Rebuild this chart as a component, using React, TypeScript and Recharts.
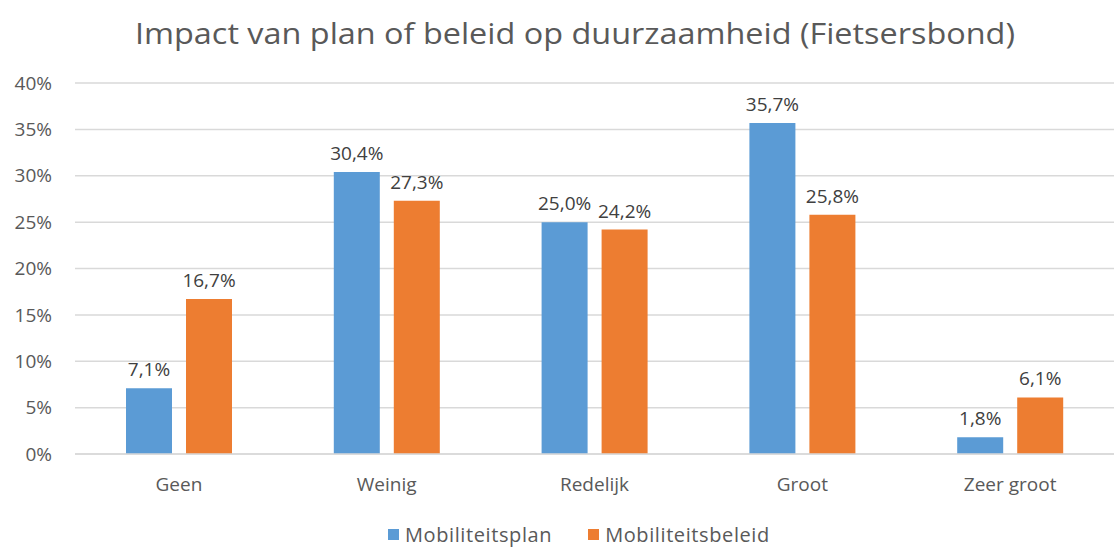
import React from "react";
import { BarChart, Bar, XAxis, YAxis, CartesianGrid, LabelList } from "recharts";

const categories = ["Geen", "Weinig", "Redelijk", "Groot", "Zeer groot"];
const mobiliteitsplan = [7.1, 30.4, 25.0, 35.7, 1.8];
const mobiliteitsbeleid = [16.7, 27.3, 24.2, 25.8, 6.1];
const yTicks = [0, 5, 10, 15, 20, 25, 30, 35, 40];
const title = "Impact van plan of beleid op duurzaamheid (Fietsersbond)";
const seriesNames = ["Mobiliteitsplan", "Mobiliteitsbeleid"];
const seriesColors = ["#5B9BD5", "#ED7D31"];

const data = categories.map((c, i) => ({
  name: c,
  plan: mobiliteitsplan[i],
  beleid: mobiliteitsbeleid[i],
}));

const FONT = "'Open Sans', sans-serif";
const fmt = (v: any) => `${Number(v).toFixed(1).replace(".", ",")}%`;

export default function App() {
  return (
    <div style={{ position: "absolute", left: 0, top: 0, width: 1114, height: 547, background: "#fff", overflow: "hidden" }}>
      <svg width={1114} height={70} style={{ position: "absolute", left: 0, top: 0 }}>
        <text x={575} y={44} textAnchor="middle" fontFamily={FONT} fontSize={29} fill="#595959" textLength={880} lengthAdjust="spacingAndGlyphs">
          {title}
        </text>
      </svg>
      <div style={{ position: "absolute", left: 0, top: 0 }}>
        <BarChart width={1114} height={547} data={data} margin={{ top: 83, right: 0, bottom: 63, left: 0 }} barGap={14} barSize={46}>
          <CartesianGrid vertical={false} stroke="#D9D9D9" strokeWidth={1.5} />
          <XAxis dataKey="name" height={30} axisLine={{ stroke: "#D9D9D9", strokeWidth: 1.5 }} tickLine={false} tickSize={0} tickMargin={24}
            tick={{ fontFamily: FONT, fontSize: 19, fill: "#595959" }} />
          <YAxis width={75} domain={[0, 40]} ticks={yTicks} tickFormatter={(v) => `${v}%`} axisLine={false} tickLine={false}
            tickSize={0} tickMargin={23} interval={0}
            tick={{ fontFamily: FONT, fontSize: 19, fill: "#595959" }} />
          <Bar dataKey="plan" name={seriesNames[0]} fill={seriesColors[0]} isAnimationActive={false}>
            <LabelList dataKey="plan" position="top" offset={12} formatter={fmt}
              style={{ fontFamily: FONT, fontSize: 19, fill: "#404040" }} />
          </Bar>
          <Bar dataKey="beleid" name={seriesNames[1]} fill={seriesColors[1]} isAnimationActive={false}>
            <LabelList dataKey="beleid" position="top" offset={12} formatter={fmt}
              style={{ fontFamily: FONT, fontSize: 19, fill: "#404040" }} />
          </Bar>
        </BarChart>
      </div>
      <div style={{ position: "absolute", left: 388, top: 521, height: 26, display: "flex", alignItems: "center", fontFamily: FONT, fontSize: 20, color: "#595959", letterSpacing: 0.6, whiteSpace: "nowrap" }}>
        <span style={{ display: "inline-block", width: 11, height: 11, background: seriesColors[0], marginRight: 6 }} />
        <span style={{ marginRight: 36 }}>{seriesNames[0]}</span>
        <span style={{ display: "inline-block", width: 11, height: 11, background: seriesColors[1], marginRight: 6 }} />
        <span>{seriesNames[1]}</span>
      </div>
    </div>
  );
}
